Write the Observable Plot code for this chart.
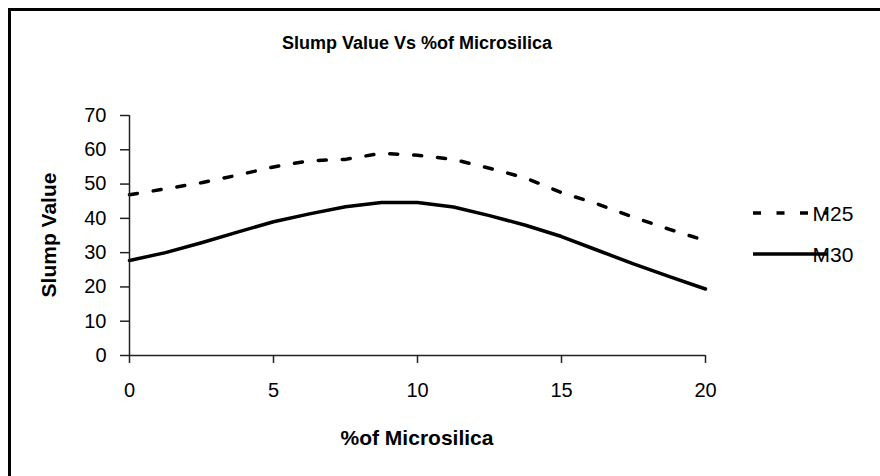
<!DOCTYPE html>
<html>
<head>
<meta charset="utf-8">
<script src="https://cdn.jsdelivr.net/npm/d3@7"></script>
<script src="https://cdn.jsdelivr.net/npm/@observablehq/plot@0.6"></script>
<style>
  html, body { margin: 0; padding: 0; background: #fff; }
  #chart { width: 880px; height: 476px; overflow: hidden; }
</style>
</head>
<body>
<div id="chart"></div>
<script>
const xValues = [0, 1.25, 2.5, 3.75, 5, 6.25, 7.5, 8.75, 10, 11.25, 12.5, 13.75, 15, 16.25, 17.5, 18.75, 20];
const m25 = [46.9, 48.6, 50.4, 52.6, 55.0, 56.8, 57.2, 59.0, 58.4, 57.2, 54.6, 51.8, 47.5, 44.2, 40.3, 36.8, 33.5];
const m30 = [27.7, 30.0, 32.9, 36.0, 39.0, 41.3, 43.4, 44.6, 44.6, 43.3, 40.8, 38.0, 34.7, 30.7, 26.7, 23.0, 19.4];
const seriesNames = ["M25", "M30"];
const xTicks = [0, 5, 10, 15, 20];
const yTicks = [0, 10, 20, 30, 40, 50, 60, 70];
const title = "Slump Value Vs %of Microsilica";
const xTitle = "%of Microsilica";
const yTitle = "Slump Value";

const rows25 = xValues.map((x, i) => ({x, y: m25[i], s: seriesNames[0]}));
const rows30 = xValues.map((x, i) => ({x, y: m30[i], s: seriesNames[1]}));

const W = 880, H = 476;
const mL = 129, mR = 175, mT = 115, mB = 121;
const font = "'Liberation Sans', Arial, sans-serif";

const plot = Plot.plot({
  width: W,
  height: H,
  marginLeft: mL,
  marginRight: mR,
  marginTop: mT,
  marginBottom: mB,
  style: {fontFamily: font, fontSize: "20px", color: "#000", background: "#fff", overflow: "visible"},
  x: {domain: [0, 20], label: null},
  y: {domain: [0, 70], label: null},
  marks: [
    Plot.line(rows25, {x: "x", y: "y", stroke: "#000", strokeWidth: 3.5, strokeDasharray: "8,16"}),
    Plot.line(rows30, {x: "x", y: "y", stroke: "#000", strokeWidth: 3.5}),
    Plot.axisX({ticks: xTicks, tickSize: 8, tickPadding: 19, stroke: "#222", strokeWidth: 1.5, fontSize: 20, label: null}),
    Plot.axisY({ticks: yTicks, tickSize: 9, tickPadding: 14, stroke: "#222", strokeWidth: 1.5, fontSize: 20, label: null}),
    Plot.ruleY([0], {stroke: "#222", strokeWidth: 1.5}),
    Plot.ruleX([0], {stroke: "#222", strokeWidth: 1.5})
  ]
});

const svg = d3.select(plot);
// border (only left and top edges fall inside the picture)
svg.insert("rect", ":first-child")
  .attr("x", 9.5).attr("y", 9.5).attr("width", W + 20).attr("height", H + 20)
  .attr("fill", "#fff").attr("stroke", "#000").attr("stroke-width", 3);

const plotCx = mL + (W - mL - mR) / 2;
const plotCy = mT + (H - mT - mB) / 2;

svg.append("text")
  .attr("x", plotCx).attr("y", 43)
  .attr("text-anchor", "middle").attr("dominant-baseline", "central")
  .attr("font-family", font).attr("font-weight", "bold").attr("font-size", 18)
  .text(title);

svg.append("text")
  .attr("x", plotCx).attr("y", 437)
  .attr("text-anchor", "middle").attr("dominant-baseline", "central")
  .attr("font-family", font).attr("font-weight", "bold").attr("font-size", 21)
  .text(xTitle);

svg.append("text")
  .attr("transform", `translate(48,${plotCy}) rotate(-90)`)
  .attr("text-anchor", "middle").attr("dominant-baseline", "central")
  .attr("font-family", font).attr("font-weight", "bold").attr("font-size", 21)
  .text(yTitle);

// legend
const legend = [
  {name: seriesNames[0], y: 213, dash: "8,15.5"},
  {name: seriesNames[1], y: 254, dash: null}
];
legend.forEach(d => {
  const ln = svg.append("line")
    .attr("x1", 753).attr("x2", 828).attr("y1", d.y).attr("y2", d.y)
    .attr("stroke", "#000").attr("stroke-width", 3.5);
  if (d.dash) ln.attr("stroke-dasharray", d.dash);
  svg.append("text")
    .attr("x", 833).attr("y", d.y)
    .attr("dominant-baseline", "central")
    .attr("font-family", font).attr("font-size", 21)
    .text(d.name);
});

document.getElementById("chart").appendChild(plot);
</script>
</body>
</html>
